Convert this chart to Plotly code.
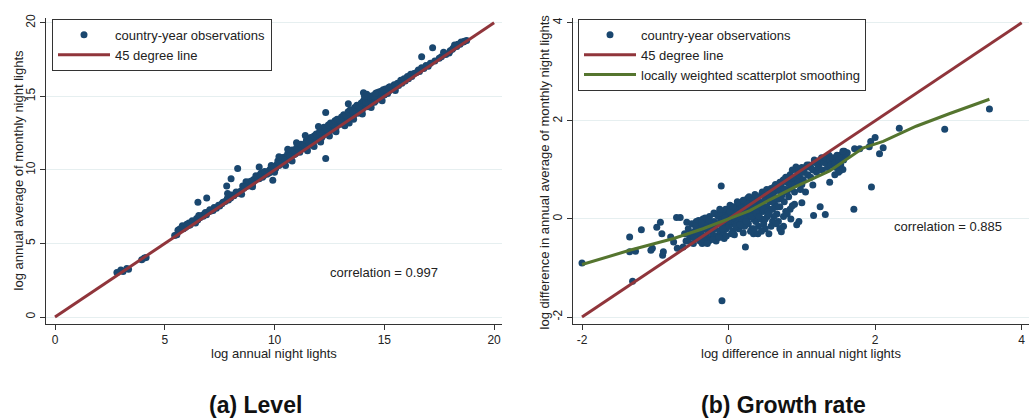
import plotly.graph_objects as go

# ---------------- data ----------------
# Panel (a): level  (x = log annual night lights, y = log annual avg of monthly)
level_points = [
    (2.82, 3.03), (3.0, 3.2), (3.1, 3.1), (3.27, 3.3), (3.35, 3.25), (3.95, 3.9), (4.07, 4.02), (4.15, 4.05),
    (5.45, 5.55), (5.55, 5.6), (5.65, 5.95), (5.75, 6.05), (5.85, 6.0), (5.95, 6.1), (6.05, 6.2), (6.1, 6.4),
    (6.2, 6.35), (6.3, 6.45), (6.4, 6.4), (6.5, 6.6), (6.6, 6.75), (6.7, 6.9), (6.8, 7.0), (6.9, 6.95),
    (7.0, 7.15), (7.1, 7.2), (7.2, 7.25), (7.35, 7.4), (7.5, 7.55), (7.6, 7.7), (7.75, 7.85), (7.9, 7.95),
    (8.0, 8.1), (8.15, 8.25), (8.3, 8.4), (8.45, 8.55), (8.6, 8.75), (8.7, 9.2), (8.8, 8.9), (8.9, 9.1),
    (9.0, 9.05), (9.1, 9.3), (9.2, 9.55), (9.3, 9.4), (9.35, 9.7), (9.5, 9.6), (9.6, 9.75), (9.7, 9.9),
    (9.8, 10.05), (9.9, 9.95), (10.0, 10.2), (10.1, 10.35), (10.2, 10.3), (10.3, 10.6), (10.4, 10.5),
    (10.5, 10.9), (10.55, 10.7), (10.65, 11.0), (10.75, 10.85), (10.85, 11.2), (10.95, 11.1), (11.05, 11.35),
    (11.15, 11.2), (11.25, 11.6), (11.3, 11.45), (11.4, 11.8), (11.5, 11.6), (11.6, 11.9), (11.7, 11.75),
    (11.75, 12.1), (11.85, 12.0), (11.95, 12.3), (12.0, 12.1), (12.1, 12.5), (12.2, 12.35), (12.3, 12.65),
    (12.4, 12.45), (12.5, 12.8), (12.6, 12.7), (12.7, 13.0), (12.8, 12.85), (12.9, 13.2), (13.0, 13.1),
    (13.1, 13.4), (13.2, 13.25), (13.3, 13.6), (13.4, 13.5), (13.5, 13.8), (13.6, 13.7), (13.7, 14.0),
    (13.8, 13.85), (13.9, 14.2), (14.0, 14.1), (14.1, 14.45), (14.2, 14.3), (14.3, 14.6), (14.4, 14.5),
    (14.5, 14.8), (14.6, 14.7), (14.7, 15.0), (14.8, 14.85), (14.9, 15.2), (15.0, 15.1), (15.1, 15.3),
    (15.2, 15.35), (15.35, 15.5), (15.5, 15.6), (15.65, 15.75), (15.8, 15.9), (15.95, 16.05), (16.1, 16.2),
    (16.25, 16.35), (16.45, 16.6), (16.6, 16.7), (16.8, 16.9), (17.0, 17.05), (17.3, 17.4), (17.8, 17.85),
    (17.95, 17.95), (18.1, 18.2), (18.3, 18.4), (18.45, 18.55), (18.6, 18.7), (18.75, 18.8),
    (8.5, 8.35), (10.5, 10.3), (11.5, 11.3), (12.5, 12.3), (13.2, 13.0), (14.0, 13.8), (9.0, 8.85),
    (15.5, 15.4), (10.3, 10.45), (10.9, 11.05), (11.2, 11.5), (11.6, 11.7), (12.15, 12.2), (12.45, 12.6),
    (12.75, 12.9), (13.05, 13.3), (13.35, 13.4), (13.65, 13.9), (13.95, 14.0), (14.25, 14.5), (14.55, 14.6),
    (14.85, 15.05), (15.15, 15.2), (15.4, 15.6), (9.45, 9.5), (9.75, 9.8), (10.05, 10.1),
    (9.05, 9.35), (9.15, 9.6), (9.25, 9.45), (9.4, 9.8), (9.55, 9.9), (9.65, 9.7), (9.85, 10.3),
    (9.95, 10.15), (10.15, 10.6), (10.25, 10.45), (10.35, 10.85), (10.45, 10.7), (10.6, 11.1),
    (10.7, 10.95), (10.8, 11.35), (10.9, 11.3), (11.0, 11.5), (11.1, 11.4), (11.2, 11.75), (11.35, 11.65),
    (11.45, 12.0), (11.55, 11.9), (11.65, 12.2), (11.8, 12.3), (11.9, 12.45), (12.05, 12.6), (12.15, 12.75),
    (12.25, 12.9), (12.35, 12.8), (12.45, 13.05), (12.55, 13.2), (12.65, 13.1), (12.75, 13.35),
    (12.85, 13.45), (12.95, 13.4), (13.05, 13.6), (13.15, 13.75), (13.25, 13.7), (13.35, 13.95),
    (13.45, 14.1), (13.55, 14.0), (13.65, 14.25), (13.75, 14.4), (13.85, 14.3), (13.95, 14.55),
    (14.05, 14.7), (14.15, 14.6), (14.25, 14.85), (14.35, 14.95), (14.45, 15.05), (14.55, 15.0),
    (14.65, 15.25), (14.75, 15.3), (14.85, 15.35), (14.95, 15.45), (15.05, 15.5), (15.25, 15.65),
    (15.45, 15.8), (15.6, 15.9), (15.75, 16.1), (15.9, 16.2), (16.05, 16.35), (16.2, 16.5), (16.35, 16.55),
    (16.55, 16.8), (16.7, 16.95), (16.9, 17.1), (17.1, 17.25), (17.5, 17.6), (17.6, 17.7), (18.0, 18.1),
    (18.15, 18.3), (18.35, 18.55), (18.5, 18.7), (18.65, 18.75),
    (5.6, 5.9), (5.8, 6.2), (6.0, 6.3), (6.15, 6.25), (6.25, 6.55), (6.45, 6.7), (6.55, 6.9), (6.75, 6.85),
    (6.85, 7.1), (7.05, 7.3), (7.25, 7.45), (7.45, 7.6), (7.65, 7.8), (7.85, 8.05), (8.05, 8.3),
    (8.25, 8.5), (8.55, 8.9), (8.65, 8.85), (8.85, 9.2), (8.95, 9.25),
    (10.8, 10.6), (11.8, 11.6), (12.8, 12.6), (13.6, 13.45), (14.4, 14.25), (14.9, 14.7), (10.0, 9.85),
    (12.1, 11.9), (13.4, 13.2),
    (6.51, 7.81), (6.91, 8.1), (7.82, 8.9), (8.02, 9.4), (8.32, 10.1), (7.86, 8.4), (9.3, 10.2),
    (10.2, 10.9), (10.6, 11.4), (12.33, 13.9), (12.33, 10.78), (13.36, 14.5), (14.05, 15.25),
    (14.2, 15.15), (14.1, 15.0), (14.6, 15.2), (15.2, 15.6), (16.7, 17.7), (17.2, 18.3), (17.7, 18.0),
    (18.2, 18.5), (9.92, 9.3), (11.4, 12.35), (12.0, 12.95), (11.0, 11.85),
]
level_line = [0, 20]
level_ticks = [0, 5, 10, 15, 20]

# Panel (b): growth rate (log differences)
growth_points = [
    (-2.0, -0.9), (-1.35, -0.37), (-1.35, -0.67), (-1.27, -0.66), (-1.31, -1.27), (-1.19, -0.22),
    (-1.06, -0.64), (-1.04, -0.6), (-0.98, -0.17), (-0.93, -0.07), (-0.91, -0.3), (-0.9, -0.74),
    (-0.89, -0.67), (-0.79, -0.37), (-0.75, -0.47), (-0.71, 0.03), (-0.66, 0.03), (-0.7, -0.6),
    (-0.62, -0.57), (-0.57, -0.07), (-0.53, -0.37), (-0.48, -0.27), (-0.41, -0.03), (-0.37, -0.13),
    (-0.35, -0.34), (-0.1, 0.67), (-0.09, -1.67), (0.23, -0.57),
    (-0.6, -0.3), (-0.58, -0.45), (-0.55, -0.2), (-0.52, -0.35), (-0.5, -0.1), (-0.48, -0.5),
    (-0.46, -0.25), (-0.44, -0.05), (-0.42, -0.4), (-0.4, -0.15), (-0.38, -0.3), (-0.36, -0.5),
    (-0.35, 0.0), (-0.33, -0.2), (-0.31, -0.35), (-0.3, -0.1), (-0.28, -0.25), (-0.26, 0.05),
    (-0.25, -0.4), (-0.23, -0.15), (-0.22, -0.3), (-0.2, -0.05), (-0.19, -0.2), (-0.18, 0.1),
    (-0.16, -0.35), (-0.15, -0.1), (-0.14, 0.05), (-0.12, -0.25), (-0.11, -0.05), (-0.1, 0.15),
    (-0.09, -0.15), (-0.08, 0.0), (-0.07, -0.3), (-0.06, 0.1), (-0.05, -0.1), (-0.04, 0.2),
    (-0.03, -0.2), (-0.02, 0.05), (-0.01, -0.05), (0.0, 0.1), (0.01, -0.15), (0.02, 0.0), (0.03, 0.2),
    (0.04, -0.1), (0.05, 0.05), (0.06, -0.25), (0.07, 0.15), (0.08, -0.05), (0.09, 0.1), (0.1, 0.25),
    (0.11, -0.1), (0.12, 0.05), (0.13, 0.2), (0.14, -0.2), (0.15, 0.1), (0.16, 0.0), (0.17, 0.3),
    (0.18, -0.05), (0.19, 0.15), (0.2, 0.05), (0.21, 0.25), (0.22, -0.15), (0.23, 0.1), (0.24, 0.35),
    (0.25, 0.0), (0.26, 0.2), (0.27, -0.1), (0.28, 0.3), (0.29, 0.1), (0.3, 0.05), (0.31, 0.4),
    (0.32, -0.2), (0.33, 0.2), (0.34, 0.0), (0.35, 0.3), (0.36, 0.15), (0.37, -0.05), (0.38, 0.45),
    (0.39, 0.25), (0.4, 0.1), (0.41, -0.15), (0.42, 0.35), (0.43, 0.2), (0.44, 0.0), (0.45, 0.5),
    (0.46, 0.3), (0.47, 0.15), (0.48, -0.1), (0.5, 0.4), (0.52, 0.25), (0.53, 0.05), (0.55, 0.55),
    (0.56, 0.35), (0.58, 0.2), (0.6, -0.05), (0.61, 0.45), (0.63, 0.3), (0.65, 0.6), (0.66, 0.1),
    (0.68, 0.4), (0.7, 0.25), (0.72, 0.7), (0.73, 0.5), (0.75, 0.05), (0.76, 0.35), (0.78, 0.6),
    (0.8, 0.75), (0.82, 0.45), (0.84, 0.2), (0.85, 0.65), (0.88, 0.8), (0.9, 0.55),
    (-0.45, -0.15), (-0.32, 0.02), (-0.27, -0.45), (-0.17, -0.45), (-0.13, 0.12), (-0.06, -0.4),
    (0.02, 0.28), (0.08, -0.32), (0.14, 0.32), (0.2, -0.28), (0.26, 0.42), (0.34, -0.3),
    (-0.55, -0.45), (-0.5, -0.3), (-0.47, -0.38), (-0.43, -0.28), (-0.39, -0.45), (-0.37, -0.08),
    (-0.34, -0.42), (-0.29, -0.5), (-0.27, -0.02), (-0.24, -0.22), (-0.21, -0.42), (-0.2, 0.12),
    (-0.17, -0.12), (-0.13, -0.38), (-0.12, 0.2), (-0.08, -0.2), (-0.05, 0.02), (-0.03, -0.35),
    (0.0, -0.05), (0.02, 0.15), (0.04, -0.3), (0.06, 0.25), (0.08, 0.08), (0.1, -0.15), (0.12, 0.35),
    (0.14, 0.12), (0.16, -0.12), (0.18, 0.22), (0.2, 0.38), (0.22, 0.15), (0.24, -0.05), (0.26, 0.3),
    (0.28, 0.45), (0.3, 0.22), (0.32, 0.05), (0.34, 0.38), (0.36, 0.5), (0.38, 0.12), (0.4, 0.42),
    (0.42, 0.05), (0.44, 0.3), (0.46, 0.55), (0.48, 0.2), (0.5, 0.5), (0.52, 0.6), (0.54, 0.15),
    (0.56, 0.45), (0.58, 0.62), (0.6, 0.35), (0.62, 0.55), (0.64, 0.7), (0.66, 0.25), (0.68, 0.58),
    (0.7, 0.68), (0.72, 0.45), (0.74, 0.78), (0.76, 0.6), (0.78, 0.85), (0.8, 0.55), (0.82, 0.72),
    (0.84, 0.9), (0.86, 0.62), (0.88, 0.7), (0.9, 0.85), (0.94, 1.0), (0.97, 0.85), (1.0, 1.05),
    (1.03, 0.95), (1.07, 1.1), (1.12, 1.05), (1.17, 1.2), (1.23, 1.1), (1.27, 1.25), (1.33, 1.15),
    (1.37, 1.3), (1.43, 1.2), (1.47, 1.05), (1.52, 1.3), (1.57, 1.2), (1.62, 1.35),
    (0.3, -0.25), (0.4, -0.3), (0.5, 0.0), (0.58, -0.15), (0.62, 0.05), (0.68, -0.05), (0.78, 0.15),
    (0.85, 0.0), (0.55, 0.1),
    (0.92, 1.06), (0.87, 1.0), (0.95, 0.9), (1.0, 0.95), (1.02, 0.8), (1.05, 1.05), (1.08, 0.9),
    (1.1, 1.1), (1.12, 0.85), (1.15, 1.0), (1.18, 1.15), (1.2, 0.95), (1.22, 1.05), (1.25, 1.2),
    (1.28, 1.0), (1.3, 1.15), (1.32, 1.25), (1.35, 1.05), (1.38, 1.2), (1.4, 1.1), (1.42, 1.25),
    (1.45, 1.15), (1.48, 1.3), (1.5, 1.2), (1.53, 1.1), (1.55, 1.25), (1.58, 1.38), (1.6, 1.3),
    (1.52, 0.98), (1.56, 1.01), (1.5, 0.95), (1.45, 0.9), (1.38, 0.75),
    (0.62, 0.65), (0.7, 0.75), (0.75, 0.8), (0.82, 0.85), (0.85, 0.7), (0.9, 0.7), (0.95, 0.75),
    (0.98, 0.6), (1.0, 0.7), (1.05, 0.55),
    (0.5, -0.2), (0.55, -0.3), (0.7, -0.2), (0.65, -0.1), (0.45, -0.25), (0.35, -0.2), (0.6, 0.2),
    (0.75, -0.15), (0.8, 0.1), (0.9, 0.3), (0.72, -0.26), (0.72, -0.19), (0.87, 0.27), (0.96, -0.05),
    (0.93, -0.12), (1.0, 0.33), (1.16, 0.07), (1.25, 0.25), (1.32, 0.09), (1.71, 0.2), (1.95, 0.65),
    (1.15, 0.69), (2.33, 1.85), (2.95, 1.83), (3.56, 2.24), (2.0, 1.66), (1.94, 1.58), (2.11, 1.45),
    (2.06, 1.33), (1.92, 1.47), (1.72, 1.43), (1.79, 1.43), (1.61, 1.33), (1.56, 1.38),
]
growth_line = [-2, 4]
lowess_x = [-2.0, -1.35, -0.75, -0.35, 0.0, 0.29, 0.56, 0.93, 1.38, 1.61, 1.84, 2.11, 2.56, 3.02, 3.56]
lowess_y = [-0.93, -0.64, -0.40, -0.2, 0.0, 0.17, 0.39, 0.67, 0.98, 1.21, 1.45, 1.58, 1.89, 2.15, 2.44]
growth_ticks = [-2, 0, 2, 4]
growth_tick_labels = ["-2", "0", "2", "4"]

# ---------------- styling ----------------
NAVY = "#1a476f"
MAROON = "#90353b"
GREEN = "#55752f"
FONT = "Liberation Sans, Arial, sans-serif"
AX = "#333333"
GRID = "#e6eff0"

W, H = 1032, 420


def px_x(p):
    return p / W


def px_y(p):
    return 1 - p / H


fig = go.Figure()

fig.add_trace(go.Scatter(
    x=[p[0] for p in level_points], y=[p[1] for p in level_points], mode="markers",
    marker=dict(color=NAVY, size=7), name="country-year observations",
    xaxis="x", yaxis="y", legend="legend"))
fig.add_trace(go.Scatter(
    x=level_line, y=level_line, mode="lines", line=dict(color=MAROON, width=3),
    name="45 degree line", xaxis="x", yaxis="y", legend="legend"))

fig.add_trace(go.Scatter(
    x=[p[0] for p in growth_points], y=[p[1] for p in growth_points], mode="markers",
    marker=dict(color=NAVY, size=7), name="country-year observations",
    xaxis="x2", yaxis="y2", legend="legend2"))
fig.add_trace(go.Scatter(
    x=growth_line, y=growth_line, mode="lines", line=dict(color=MAROON, width=3),
    name="45 degree line", xaxis="x2", yaxis="y2", legend="legend2"))
fig.add_trace(go.Scatter(
    x=lowess_x, y=lowess_y, mode="lines", line=dict(color=GREEN, width=3),
    name="locally weighted scatterplot smoothing", xaxis="x2", yaxis="y2", legend="legend2"))

xa = dict(showline=True, linecolor=AX, linewidth=1, ticks="outside", ticklen=5, tickcolor=AX,
          showgrid=False, zeroline=False, tickfont=dict(size=12, color="#222"))
ya = dict(showline=True, linecolor=AX, linewidth=1, ticks="outside", ticklen=5, tickcolor=AX,
          showgrid=True, gridcolor=GRID, gridwidth=1, zeroline=False, tickangle=-90,
          tickfont=dict(size=12, color="#222"))

ydom = [px_y(323), px_y(14)]

legend_style = dict(bgcolor="white", bordercolor=AX, borderwidth=1, font=dict(size=13, color="#222"),
                    xanchor="left", yanchor="top", itemwidth=52, tracegroupgap=0)

fig.update_layout(
    width=W, height=H, margin=dict(l=0, r=0, t=0, b=0),
    paper_bgcolor="white", plot_bgcolor="white",
    font=dict(family=FONT, color="#222"),
    xaxis=dict(xa, domain=[px_x(46), px_x(502)], range=[-0.41, 20.36], tickvals=level_ticks, anchor="y"),
    yaxis=dict(ya, domain=ydom, range=[-0.47, 20.34], tickvals=level_ticks, anchor="x"),
    xaxis2=dict(xa, domain=[px_x(573), px_x(1029)], range=[-2.123, 4.1], tickvals=growth_ticks,
                ticktext=growth_tick_labels, anchor="y2"),
    yaxis2=dict(ya, domain=ydom, range=[-2.141, 4.1], tickvals=growth_ticks,
                ticktext=growth_tick_labels, anchor="x2"),
    legend=dict(legend_style, x=px_x(52), y=px_y(15)),
    legend2=dict(legend_style, x=px_x(578), y=px_y(15)),
    showlegend=True,
)

txt = dict(size=13, color="#222")
ann = [
    dict(text="correlation = 0.997", x=15, y=3, xref="x", yref="y", font=txt),
    dict(text="correlation = 0.885", x=3, y=-0.15, xref="x2", yref="y2", font=txt),
    dict(text="log annual night lights", x=px_x(274), y=px_y(353), xref="paper", yref="paper", font=txt),
    dict(text="log difference in annual night lights", x=px_x(801), y=px_y(353), xref="paper",
         yref="paper", font=txt),
    dict(text="log annual average of monthly night lights", x=px_x(18), y=px_y(168), xref="paper",
         yref="paper", textangle=-90, font=txt),
    dict(text="log difference in annual average of monthly night lights", x=px_x(544), y=px_y(170),
         xref="paper", yref="paper", textangle=-90, font=txt),
    dict(text="<b>(a) Level</b>", x=px_x(255), y=px_y(405), xref="paper", yref="paper",
         font=dict(size=23, color="#111")),
    dict(text="<b>(b) Growth rate</b>", x=px_x(783), y=px_y(405), xref="paper", yref="paper",
         font=dict(size=23, color="#111")),
]
for a in ann:
    a.update(showarrow=False, xanchor="center", yanchor="middle")
fig.update_layout(annotations=ann)

fig.write_html("out.html", config={"displayModeBar": False},
               post_script="document.body.style.margin='0';")
